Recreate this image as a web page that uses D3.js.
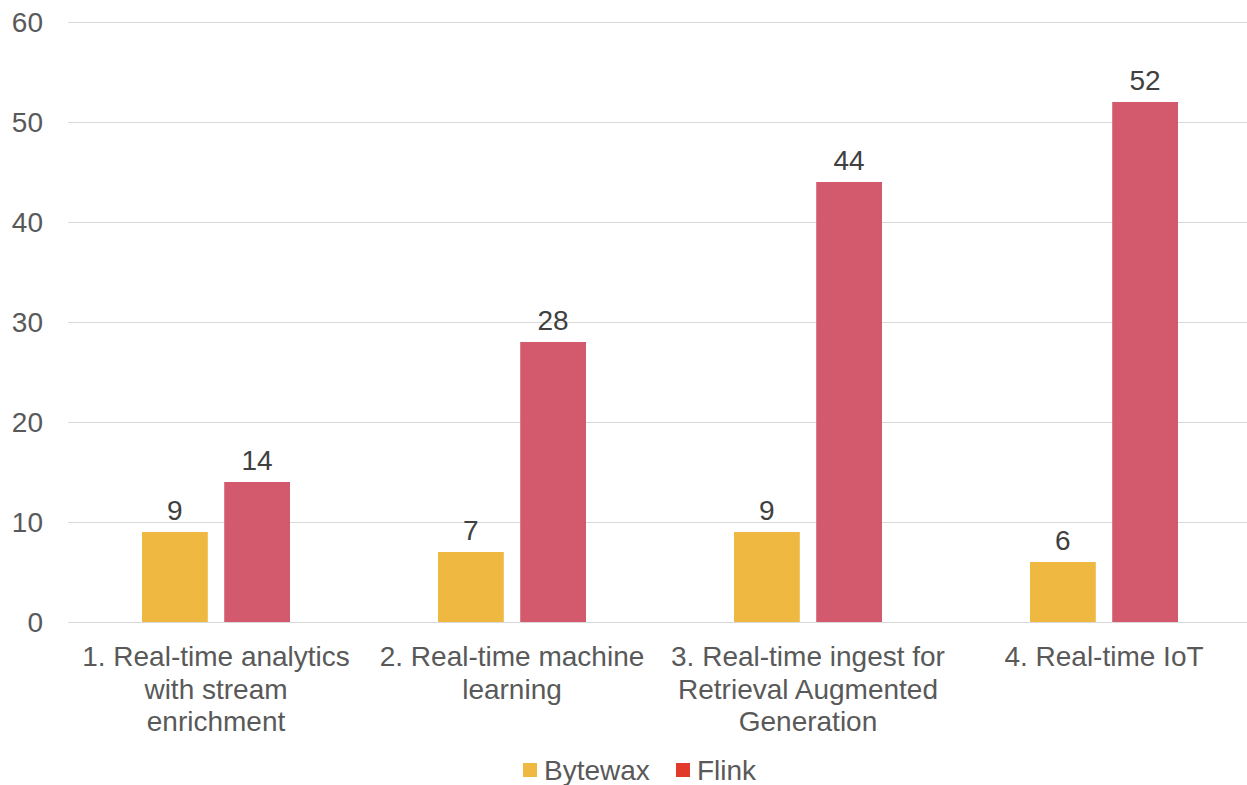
<!DOCTYPE html>
<html lang="en">
<head>
<meta charset="UTF-8">
<title>Bytewax vs Flink</title>
<script src="https://d3js.org/d3.v7.min.js"></script>
<style>
  body { margin: 0; background: #fff; }
  svg { font-family: "Liberation Sans", Arial, sans-serif; }
</style>
</head>
<body>
<script>
  var categories = [
    ["1. Real-time analytics", "with stream", "enrichment"],
    ["2. Real-time machine", "learning"],
    ["3. Real-time ingest for", "Retrieval Augmented", "Generation"],
    ["4. Real-time IoT"]
  ];
  var seriesNames = ["Bytewax", "Flink"];
  var bytewax = [9, 7, 9, 6];
  var flink = [14, 28, 44, 52];
  var yTicks = [0, 10, 20, 30, 40, 50, 60];

  var width = 1247, height = 785;
  var plotLeft = 68, plotRight = 1252, plotTop = 22, plotBottom = 622;
  var fs = 28;

  var svg = d3.select("body").append("svg")
      .attr("width", width)
      .attr("height", height);

  var x = d3.scaleBand()
      .domain(d3.range(categories.length))
      .range([plotLeft, plotRight]);

  var inner = d3.scaleBand()
      .domain(seriesNames)
      .range([74, x.bandwidth() - 74])
      .paddingInner(0.2);

  var y = d3.scaleLinear().domain([0, 60]).range([plotBottom, plotTop]);

  var barColor = { Bytewax: "#EFB841", Flink: "#D3596C" };
  var legendColor = { Bytewax: "#EFB841", Flink: "#E23A2A" };

  // gridlines
  svg.append("g").selectAll("line")
    .data(yTicks)
    .enter().append("line")
      .attr("x1", plotLeft).attr("x2", width)
      .attr("y1", function(d) { return y(d) + 0.5; })
      .attr("y2", function(d) { return y(d) + 0.5; })
      .attr("stroke", "#d9d9d9")
      .attr("stroke-width", 1);

  // y tick labels
  svg.append("g").selectAll("text")
    .data(yTicks)
    .enter().append("text")
      .attr("x", 43)
      .attr("y", function(d) { return y(d); })
      .attr("dy", "0.35em")
      .attr("text-anchor", "end")
      .attr("fill", "#595959")
      .attr("font-size", fs)
      .text(function(d) { return d; });

  var rows = categories.map(function(c, i) {
    return [{ key: "Bytewax", v: bytewax[i] }, { key: "Flink", v: flink[i] }];
  });

  var groups = svg.append("g").selectAll("g")
    .data(rows)
    .enter().append("g")
      .attr("transform", function(d, i) { return "translate(" + x(i) + ",0)"; });

  groups.selectAll("rect")
    .data(function(d) { return d; })
    .enter().append("rect")
      .attr("x", function(d) { return inner(d.key); })
      .attr("width", inner.bandwidth())
      .attr("y", function(d) { return y(d.v); })
      .attr("height", function(d) { return y(0) - y(d.v); })
      .attr("fill", function(d) { return barColor[d.key]; });

  groups.selectAll("text.val")
    .data(function(d) { return d; })
    .enter().append("text")
      .attr("class", "val")
      .attr("x", function(d) { return inner(d.key) + inner.bandwidth() / 2; })
      .attr("y", function(d) { return y(d.v) - 12; })
      .attr("text-anchor", "middle")
      .attr("fill", "#404040")
      .attr("font-size", fs)
      .text(function(d) { return d.v; });

  // category labels
  var cat = svg.append("g").selectAll("text")
    .data(categories)
    .enter().append("text")
      .attr("x", function(d, i) { return x(i) + x.bandwidth() / 2; })
      .attr("y", 666)
      .attr("text-anchor", "middle")
      .attr("fill", "#595959")
      .attr("font-size", fs);

  cat.selectAll("tspan")
    .data(function(d) { return d; })
    .enter().append("tspan")
      .attr("x", function() { return d3.select(this.parentNode).attr("x"); })
      .attr("dy", function(d, j) { return j === 0 ? 0 : 32.5; })
      .text(function(d) { return d; });

  // legend
  var legendX = [523, 676];
  var lg = svg.append("g").selectAll("g")
    .data(seriesNames)
    .enter().append("g")
      .attr("transform", function(d, i) { return "translate(" + legendX[i] + ",763)"; });
  lg.append("rect")
    .attr("width", 14).attr("height", 14)
    .attr("fill", function(d) { return legendColor[d]; });
  lg.append("text")
    .attr("x", 21).attr("y", 7)
    .attr("dy", "0.35em")
    .attr("fill", "#595959")
    .attr("font-size", fs)
    .text(function(d) { return d; });
</script>
</body>
</html>
